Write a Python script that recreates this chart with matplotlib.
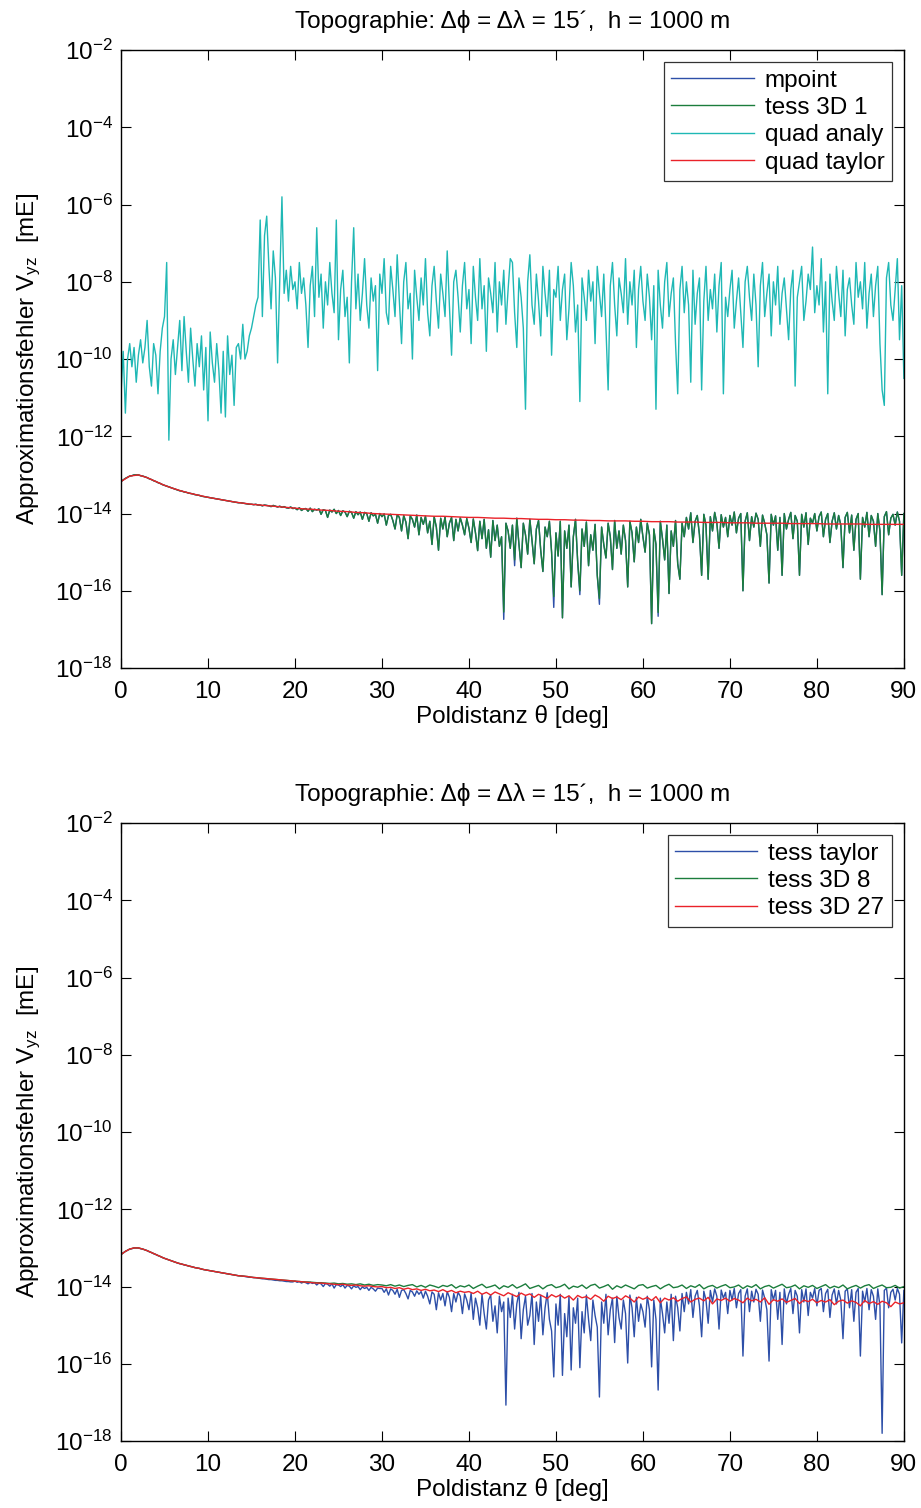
import numpy as np
import matplotlib
matplotlib.use('Agg')
import matplotlib.pyplot as plt
from matplotlib.ticker import FixedLocator, FuncFormatter, NullLocator

plt.rcParams['font.family'] = ['Liberation Sans', 'DejaVu Sans']
plt.rcParams['mathtext.fontset'] = 'custom'
plt.rcParams['mathtext.rm'] = 'Liberation Sans'
plt.rcParams['mathtext.it'] = 'Liberation Sans:italic'
plt.rcParams['mathtext.bf'] = 'Liberation Sans:bold'

# all values are log10 of the approximation error [mE]

# --- top panel ---
# quad taylor, read every 1 deg
quad_taylor_exp = [
    -13.17, -13.03, -13.00, -13.07, -13.17, -13.27, -13.35, -13.42, -13.48, -13.53,
    -13.58, -13.62, -13.66, -13.70, -13.73, -13.76, -13.78, -13.80, -13.82, -13.84,
    -13.86, -13.88, -13.89, -13.91, -13.92, -13.94, -13.95, -13.97, -13.98, -14.00,
    -14.01, -14.02, -14.03, -14.04, -14.05, -14.06, -14.07, -14.07, -14.08, -14.09,
    -14.10, -14.10, -14.11, -14.12, -14.12, -14.13, -14.13, -14.14, -14.15, -14.15,
    -14.16, -14.16, -14.17, -14.17, -14.18, -14.18, -14.19, -14.19, -14.19, -14.20,
    -14.20, -14.21, -14.21, -14.21, -14.22, -14.22, -14.22, -14.23, -14.23, -14.23,
    -14.24, -14.24, -14.24, -14.25, -14.25, -14.25, -14.25, -14.26, -14.26, -14.26,
    -14.26, -14.27, -14.27, -14.27, -14.27, -14.27, -14.28, -14.28, -14.28, -14.28,
    -14.28,
]

# quad analy, read every 0.25 deg
quad_analy_exp = [
    -10.9, -9.8, -11.4, -10.0, -9.6, -10.2, -9.7, -10.6, -9.9, -9.5, -10.1, -9.7, -9.0, -10.2, -10.7, -9.6, -9.9, -10.9, -9.8, -9.2,
    -8.9, -7.5, -12.1, -10.0, -9.5, -10.4, -9.7, -9.0, -10.3, -8.9, -9.8, -10.6, -9.2, -10.0, -10.7, -9.6, -10.2, -9.4, -10.8, -9.7,
    -11.6, -9.3, -10.1, -10.6, -9.6, -10.3, -11.4, -9.8, -11.5, -9.4, -10.4, -9.9, -11.2, -9.7, -9.6, -10.0, -9.1, -10.0, -9.8, -9.4,
    -9.2, -8.9, -8.6, -8.4, -6.4, -8.9, -6.8, -6.3, -7.6, -8.7, -7.2, -7.9, -10.1, -8.0, -5.8, -8.3, -7.7, -8.5, -7.6, -8.2,
    -8.0, -8.7, -7.5, -8.3, -7.9, -8.6, -9.7, -8.1, -7.6, -8.9, -6.6, -8.4, -7.8, -9.2, -8.0, -8.6, -7.5, -8.3, -8.8, -6.4,
    -9.5, -8.2, -7.7, -8.9, -8.4, -10.1, -8.0, -6.6, -8.7, -7.8, -9.0, -8.3, -7.4, -8.6, -9.2, -7.9, -8.5, -8.1, -10.3, -7.8,
    -8.3, -7.4, -8.8, -9.1, -7.6, -8.2, -8.9, -7.3, -8.5, -9.6, -8.0, -7.5, -8.7, -8.3, -10.0, -7.7, -8.4, -9.0, -7.9, -8.6,
    -7.4, -8.8, -9.4, -8.1, -7.6, -8.5, -9.2, -7.8, -8.3, -8.9, -7.2, -8.6, -9.9, -8.0, -7.7, -8.4, -9.3, -8.1, -7.5, -8.7,
    -8.2, -9.6, -7.6, -8.4, -9.0, -7.4, -8.7, -8.1, -9.8, -7.9, -8.3, -8.8, -7.5, -9.3, -8.0, -8.6, -7.7, -9.1, -8.2, -7.4,
    -7.5, -8.8, -9.7, -7.9, -8.4, -9.2, -11.3, -8.0, -7.3, -8.6, -9.1, -7.8, -8.5, -9.4, -7.6, -8.3, -8.9, -7.7, -9.9, -8.2,
    -8.4, -7.6, -9.0, -8.2, -7.8, -9.5, -8.7, -7.5, -8.1, -9.3, -8.6, -11.1, -7.9, -8.4, -9.0, -7.7, -8.5, -8.0, -9.6, -7.6,
    -8.3, -8.9, -7.8, -9.2, -10.8, -8.1, -7.5, -8.6, -9.4, -7.9, -8.3, -8.8, -7.4, -9.1, -8.0, -8.6, -7.7, -9.7, -8.2, -7.6,
    -8.5, -9.0, -7.8, -8.4, -9.5, -8.1, -11.3, -7.7, -8.6, -9.2, -8.0, -7.5, -8.9, -8.3, -7.9, -9.6, -10.9, -8.2, -7.6, -8.8,
    -8.0, -8.6, -10.6, -7.7, -9.1, -8.3, -7.9, -10.8, -8.5, -7.6, -9.0, -8.2, -8.7, -7.8, -9.3, -8.1, -7.5, -10.9, -8.4, -8.9,
    -8.2, -7.7, -9.2, -8.5, -7.9, -8.8, -9.7, -8.0, -7.6, -8.4, -9.0, -7.8, -8.6, -10.2, -8.1, -7.5, -8.9, -8.3, -7.8, -9.4,
    -8.0, -8.6, -7.6, -9.1, -8.3, -7.9, -8.7, -9.5, -8.2, -7.7, -10.7, -8.4, -8.0, -7.6, -9.0, -8.5, -7.8, -8.2, -7.1, -8.8,
    -8.1, -8.6, -7.4, -9.3, -8.0, -10.9, -7.8, -8.5, -9.0, -7.6, -8.3, -8.9, -7.7, -9.4, -8.2, -7.9, -8.6, -9.1, -7.5, -8.4,
    -8.0, -8.7, -7.5, -9.2, -8.3, -7.8, -8.9, -8.1, -7.6, -9.6, -10.8, -11.2, -7.9, -7.5, -8.6, -9.0, -8.2, -7.4, -9.5, -8.1,
    -10.5,
]

# tess 3D 1, read every 0.25 deg
tess1_exp = [
    -13.17, -13.13, -13.09, -13.06, -13.03, -13.02, -13.00, -13.00, -13.00, -13.02, -13.03, -13.05, -13.07, -13.10, -13.12, -13.15, -13.17, -13.20, -13.22, -13.25,
    -13.27, -13.29, -13.31, -13.33, -13.35, -13.37, -13.39, -13.41, -13.42, -13.44, -13.45, -13.47, -13.48, -13.49, -13.51, -13.52, -13.53, -13.55, -13.56, -13.57,
    -13.58, -13.59, -13.60, -13.61, -13.62, -13.63, -13.64, -13.65, -13.66, -13.67, -13.68, -13.69, -13.70, -13.71, -13.72, -13.72, -13.73, -13.74, -13.75, -13.76,
    -13.76, -13.77, -13.76, -13.78, -13.78, -13.80, -13.78, -13.79, -13.80, -13.82, -13.79, -13.81, -13.83, -13.81, -13.84, -13.82, -13.85, -13.86, -13.83, -13.87,
    -13.86, -13.90, -13.85, -13.92, -13.88, -13.87, -13.94, -13.86, -13.95, -13.89, -13.91, -13.88, -14.02, -13.90, -13.92, -14.10, -13.91, -13.96, -13.89, -14.00,
    -13.92, -14.05, -13.93, -13.96, -14.08, -13.94, -13.97, -14.12, -13.95, -14.03, -13.96, -14.15, -13.97, -14.00, -14.20, -13.98, -14.06, -14.02, -14.25, -14.00,
    -14.08, -14.01, -14.30, -14.05, -14.02, -14.18, -14.40, -14.03, -14.10, -14.45, -14.05, -14.22, -14.65, -14.06, -14.15, -14.35, -14.04, -14.55, -14.10, -14.28,
    -14.07, -14.50, -14.20, -14.80, -14.08, -14.35, -14.95, -14.12, -14.40, -14.09, -14.60, -14.25, -14.10, -14.70, -14.15, -14.45, -14.11, -14.30, -14.55, -14.13,
    -14.38, -14.75, -14.14, -14.50, -14.96, -14.20, -14.65, -14.15, -14.90, -14.42, -15.13, -14.18, -14.70, -14.30, -14.85, -14.60, -16.55, -14.25, -14.45, -14.90,
    -14.30, -15.20, -14.12, -14.80, -15.40, -14.25, -14.55, -15.05, -14.15, -14.70, -15.30, -14.40, -14.18, -14.95, -15.50, -14.35, -14.60, -14.20, -15.00, -16.15,
    -14.50, -15.10, -14.20, -16.70, -14.45, -14.90, -14.30, -15.90, -14.60, -14.15, -15.25, -16.00, -14.40, -14.85, -14.22, -15.35, -14.55, -14.95, -14.28, -15.60,
    -16.20, -14.35, -14.80, -15.15, -14.25, -14.60, -15.45, -14.18, -14.90, -14.45, -15.05, -14.30, -14.70, -15.90, -14.20, -14.50, -15.25, -14.35, -14.75, -14.15,
    -14.60, -15.00, -14.25, -14.55, -16.85, -14.40, -14.80, -16.56, -14.20, -14.65, -15.20, -14.30, -16.07, -14.45, -14.85, -14.18, -15.30, -15.70, -14.25, -14.60,
    -14.10, -14.40, -13.98, -14.75, -14.20, -14.05, -14.55, -15.60, -14.02, -14.30, -15.70, -14.08, -14.45, -13.97, -14.25, -14.90, -14.03, -14.35, -14.10, -14.60,
    -14.05, -14.30, -13.96, -14.50, -14.12, -14.00, -16.00, -14.20, -13.98, -14.70, -14.08, -14.35, -13.99, -14.15, -14.85, -14.04, -14.25, -14.55, -15.80, -14.02,
    -14.30, -14.06, -14.95, -14.10, -15.60, -14.00, -14.40, -14.15, -13.97, -14.65, -14.05, -14.20, -15.60, -14.02, -14.35, -13.98, -14.80, -14.12, -14.25, -14.00,
    -14.45, -14.08, -13.96, -14.60, -14.15, -14.00, -14.75, -14.20, -13.98, -14.40, -14.05, -14.30, -15.40, -14.10, -13.97, -14.50, -14.04, -14.95, -14.15, -14.00,
    -15.70, -14.10, -14.35, -13.97, -14.60, -14.05, -14.20, -14.85, -14.00, -14.45, -16.10, -14.08, -13.95, -14.55, -14.12, -14.02, -14.30, -13.96, -14.20, -15.60,
    -14.00,
]

# mpoint lies under tess 3D 1; it only shows at a few dip tips (sample index -> value)
mpoint_tips = {176: -16.74, 181: -15.35, 199: -16.43, 211: -16.10, 220: -16.35, 247: -16.66}

# --- bottom panel ---
# tess taylor, read every 0.25 deg
tess_taylor_exp = [
    -13.17, -13.13, -13.09, -13.06, -13.03, -13.02, -13.00, -13.00, -13.00, -13.02, -13.03, -13.05, -13.07, -13.10, -13.12, -13.15, -13.17, -13.20, -13.22, -13.25,
    -13.27, -13.29, -13.31, -13.33, -13.35, -13.37, -13.39, -13.41, -13.42, -13.44, -13.45, -13.47, -13.48, -13.49, -13.51, -13.52, -13.53, -13.55, -13.56, -13.57,
    -13.58, -13.59, -13.60, -13.61, -13.62, -13.63, -13.64, -13.65, -13.66, -13.67, -13.68, -13.69, -13.70, -13.71, -13.72, -13.72, -13.73, -13.74, -13.75, -13.76,
    -13.76, -13.77, -13.77, -13.78, -13.79, -13.80, -13.80, -13.81, -13.82, -13.82, -13.83, -13.84, -13.84, -13.85, -13.85, -13.86, -13.87, -13.87, -13.88, -13.88,
    -13.86, -13.89, -13.87, -13.91, -13.88, -13.90, -13.93, -13.89, -13.92, -13.90, -13.96, -13.91, -13.93, -14.00, -13.92, -13.94, -13.99, -13.93, -14.04, -13.95,
    -13.96, -14.00, -13.95, -14.04, -13.97, -13.99, -14.06, -13.98, -14.02, -14.00, -14.08, -14.01, -14.05, -14.02, -14.10, -14.02, -14.06, -14.12, -14.04, -14.05,
    -14.05, -14.15, -14.06, -14.22, -14.06, -14.10, -14.20, -14.07, -14.28, -14.10, -14.08, -14.18, -14.32, -14.10, -14.14, -14.25, -14.11, -14.20, -14.13, -14.30,
    -14.12, -14.25, -14.45, -14.14, -14.20, -14.60, -14.16, -14.35, -14.18, -14.50, -14.13, -14.28, -14.65, -14.18, -14.40, -14.15, -14.25, -14.70, -14.19, -14.35,
    -14.60, -14.17, -14.85, -14.30, -14.55, -15.00, -14.20, -14.70, -15.10, -14.35, -14.22, -14.90, -14.50, -15.20, -14.25, -14.65, -14.40, -17.07, -14.30, -14.80,
    -14.20, -15.10, -14.45, -14.15, -15.35, -14.60, -14.25, -15.00, -14.75, -14.18, -15.50, -14.40, -14.90, -14.22, -15.25, -14.55, -14.16, -14.85, -15.15, -16.34,
    -14.45, -15.00, -14.20, -16.30, -14.70, -15.30, -14.25, -16.16, -14.55, -14.95, -14.30, -16.10, -14.65, -15.20, -14.22, -14.85, -15.40, -14.35, -14.75, -15.05,
    -16.86, -14.40, -14.95, -14.20, -15.25, -14.60, -14.30, -15.45, -14.25, -14.80, -15.10, -14.35, -14.70, -15.98, -14.22, -14.55, -15.30, -14.28, -14.90, -14.45,
    -14.65, -15.05, -14.25, -14.60, -16.08, -14.35, -14.85, -16.68, -14.30, -14.70, -15.20, -14.40, -14.95, -14.20, -15.40, -14.25, -14.55, -15.15, -14.18, -14.65,
    -14.15, -14.45, -14.08, -14.80, -14.25, -14.10, -14.50, -15.30, -14.12, -14.35, -14.95, -14.10, -14.40, -14.06, -14.25, -15.10, -14.09, -14.30, -14.15, -14.70,
    -14.10, -14.35, -14.05, -14.55, -14.18, -14.08, -15.80, -14.25, -14.06, -14.65, -14.12, -14.40, -14.07, -14.20, -14.90, -14.09, -14.30, -14.60, -15.93, -14.08,
    -14.35, -14.10, -14.85, -14.15, -15.50, -14.06, -14.45, -14.20, -14.05, -14.70, -14.10, -14.25, -15.20, -14.08, -14.40, -14.06, -14.75, -14.15, -14.30, -14.05,
    -14.50, -14.10, -14.05, -14.65, -14.18, -14.07, -14.80, -14.22, -14.06, -14.45, -14.10, -14.35, -15.35, -14.12, -14.06, -14.55, -14.08, -14.90, -14.15, -14.05,
    -15.80, -14.12, -14.40, -14.05, -14.60, -14.08, -14.25, -14.85, -14.06, -14.50, -17.80, -14.10, -14.04, -14.55, -14.15, -14.07, -14.35, -14.05, -14.20, -15.46,
    -14.10,
]

# tess 3D 8, read every 0.5 deg
tess8_exp = [
    -13.17, -13.09, -13.03, -13.00, -13.00, -13.03, -13.07, -13.12, -13.17, -13.22, -13.27, -13.31, -13.35, -13.39, -13.42, -13.45, -13.48, -13.51, -13.53, -13.56,
    -13.58, -13.60, -13.62, -13.64, -13.66, -13.68, -13.70, -13.72, -13.73, -13.74, -13.76, -13.77, -13.78, -13.79, -13.80, -13.81, -13.82, -13.83, -13.84, -13.85,
    -13.86, -13.87, -13.88, -13.88, -13.89, -13.90, -13.90, -13.91, -13.92, -13.91, -13.93, -13.92, -13.94, -13.93, -13.95, -13.93, -13.96, -13.94, -13.97, -13.95,
    -13.96, -13.98, -13.95, -13.99, -13.96, -14.00, -13.97, -13.95, -14.01, -13.97, -14.02, -13.96, -13.99, -14.03, -13.97, -14.00, -13.95, -14.04, -13.98, -14.01,
    -13.96, -14.05, -13.99, -13.94, -14.03, -14.00, -13.96, -14.06, -13.98, -14.02, -13.95, -14.04, -13.99, -13.93, -14.05, -14.01, -13.97, -14.06, -13.98, -13.95,
    -14.03, -14.00, -13.94, -14.06, -13.99, -14.02, -13.96, -14.05, -13.97, -13.94, -14.04, -14.00, -13.95, -14.07, -13.98, -14.03, -13.96, -14.01, -14.06, -13.97,
    -13.95, -14.04, -14.00, -13.97, -14.06, -13.99, -13.94, -14.03, -14.01, -13.96, -14.05, -13.98, -14.02, -13.95, -14.06, -14.00, -13.97, -14.04, -13.99, -13.95,
    -14.03, -14.01, -13.96, -14.05, -13.98, -14.02, -13.95, -14.06, -14.00, -13.97, -14.04, -13.99, -13.94, -14.03, -14.01, -13.96, -14.06, -13.98, -14.02, -13.97,
    -14.05, -14.00, -13.95, -14.04, -13.99, -14.03, -13.96, -14.06, -14.01, -13.97, -14.04, -13.98, -13.95, -14.05, -14.00, -13.96, -14.03, -14.02, -13.97, -14.04,
    -14.00,
]

# tess 3D 27, read every 0.5 deg
tess27_exp = [
    -13.17, -13.09, -13.03, -13.00, -13.00, -13.03, -13.07, -13.12, -13.17, -13.22, -13.27, -13.31, -13.35, -13.39, -13.42, -13.45, -13.48, -13.51, -13.53, -13.56,
    -13.58, -13.60, -13.62, -13.64, -13.66, -13.68, -13.70, -13.72, -13.73, -13.74, -13.76, -13.77, -13.78, -13.79, -13.80, -13.81, -13.82, -13.83, -13.84, -13.85,
    -13.86, -13.87, -13.88, -13.89, -13.90, -13.91, -13.91, -13.92, -13.93, -13.94, -13.95, -13.94, -13.96, -13.97, -13.96, -13.98, -13.99, -13.98, -14.00, -14.01,
    -14.00, -14.03, -14.02, -14.05, -14.03, -14.07, -14.04, -14.08, -14.06, -14.10, -14.07, -14.11, -14.09, -14.13, -14.08, -14.14, -14.10, -14.16, -14.12, -14.15,
    -14.13, -14.18, -14.12, -14.20, -14.15, -14.22, -14.14, -14.19, -14.24, -14.16, -14.21, -14.26, -14.17, -14.23, -14.19, -14.28, -14.20, -14.25, -14.31, -14.21,
    -14.27, -14.22, -14.30, -14.24, -14.35, -14.23, -14.29, -14.26, -14.33, -14.22, -14.28, -14.38, -14.25, -14.31, -14.27, -14.34, -14.24, -14.30, -14.40, -14.27,
    -14.33, -14.28, -14.36, -14.26, -14.42, -14.30, -14.35, -14.29, -14.38, -14.31, -14.27, -14.40, -14.33, -14.30, -14.37, -14.28, -14.45, -14.32, -14.36, -14.30,
    -14.38, -14.31, -14.35, -14.42, -14.30, -14.37, -14.33, -14.40, -14.29, -14.46, -14.34, -14.38, -14.32, -14.41, -14.36, -14.31, -14.44, -14.35, -14.39, -14.33,
    -14.42, -14.36, -14.40, -14.34, -14.47, -14.38, -14.35, -14.43, -14.37, -14.41, -14.50, -14.36, -14.44, -14.39, -14.46, -14.38, -14.42, -14.52, -14.40, -14.45,
    -14.42,
]

title = 'Topographie: \u0394\u03d5 = \u0394\u03bb = 15\u00b4,  h = 1000 m'
xlab = 'Poldistanz \u03b8 [deg]'
ylab = 'Approximationsfehler V$_{\\mathrm{yz}}$  [mE]'

c_blue = '#2d4fa8'
c_green = '#1b7d3c'
c_cyan = '#1fb8b5'
c_red = '#ea2229'
FS = 17.5


def series(exp):
    exp = np.asarray(exp, dtype=float)
    return np.linspace(0, 90, len(exp)), 10.0 ** exp


def style_axes(ax):
    ax.set_yscale('log')
    ax.set_xlim(0, 90)
    ax.set_ylim(1e-18, 1e-2)
    ax.yaxis.set_major_locator(FixedLocator(10.0 ** np.arange(-18, -1, 2)))
    ax.yaxis.set_minor_locator(NullLocator())
    ax.yaxis.set_major_formatter(FuncFormatter(lambda v, p: '$10^{%d}$' % round(np.log10(v))))
    ax.set_xticks(np.arange(0, 91, 10))
    ax.tick_params(direction='in', top=True, right=True, length=7, width=0.8,
                   labelsize=FS, pad=6)
    ax.tick_params(axis='x', pad=9)
    for s in ax.spines.values():
        s.set_linewidth(1.0)
    ax.set_xlabel(xlab, fontsize=FS, labelpad=2)
    ax.set_ylabel(ylab, fontsize=FS, labelpad=9)
    ax.set_title(title, fontsize=FS, pad=16)


def add_legend(ax):
    leg = ax.legend(loc='upper right', fontsize=FS, frameon=True, fancybox=False,
                    edgecolor='black', handlelength=3.4, handletextpad=0.45,
                    labelspacing=0.22, borderpad=0.3, borderaxespad=0.5)
    leg.get_frame().set_linewidth(0.9)


fig = plt.figure(figsize=(9.21, 15.08), dpi=100)
ax1 = fig.add_axes([0.1314, 0.557, 0.850, 0.4098])
ax2 = fig.add_axes([0.1314, 0.0444, 0.850, 0.4098])

# top panel
x, y = series(tess1_exp)
mp_exp = list(tess1_exp)
for i, v in mpoint_tips.items():
    mp_exp[i] = v
xm, ym = series(mp_exp)
ax1.plot(xm, ym, color=c_blue, lw=1.0, label='mpoint')
ax1.plot(x, y, color=c_green, lw=1.0, label='tess 3D 1')
x, y = series(quad_analy_exp)
ax1.plot(x, y, color=c_cyan, lw=1.0, label='quad analy')
x, y = series(quad_taylor_exp)
ax1.plot(x, y, color=c_red, lw=1.0, label='quad taylor')
style_axes(ax1)
add_legend(ax1)

# bottom panel
x, y = series(tess_taylor_exp)
ax2.plot(x, y, color=c_blue, lw=1.0, label='tess taylor')
x, y = series(tess8_exp)
ax2.plot(x, y, color=c_green, lw=1.0, label='tess 3D 8')
x, y = series(tess27_exp)
ax2.plot(x, y, color=c_red, lw=1.0, label='tess 3D 27')
style_axes(ax2)
add_legend(ax2)

fig.savefig('out.png', dpi=100)
